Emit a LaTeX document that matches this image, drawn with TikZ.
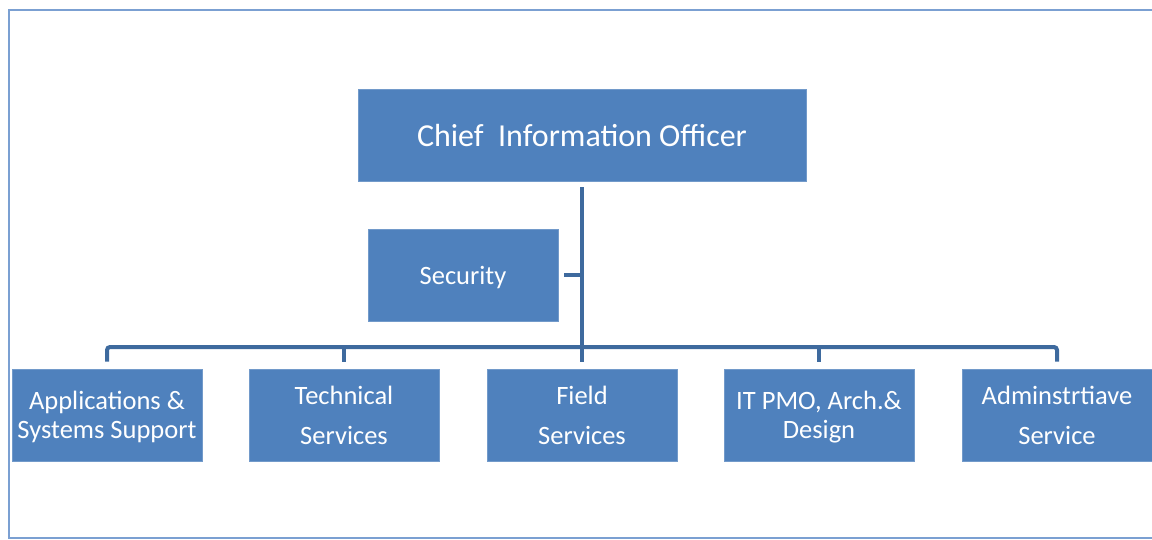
\documentclass[tikz,border=0pt]{standalone}
\usepackage{fontspec}
\setmainfont{Carlito}
\usepackage{tikz}
\usetikzlibrary{calc,positioning}

\definecolor{boxblue}{HTML}{4F81BD}
\definecolor{linkblue}{HTML}{3E6A9E}
\definecolor{framblue}{HTML}{7BA0D2}

\begin{document}
\begin{tikzpicture}[x=1pt,y=-1pt,
		unit/.style={fill=boxblue,draw=boxblue!80!white,line width=.6pt,text=white,align=center,
			minimum width=190pt,minimum height=92pt,inner sep=0pt,text depth=0pt,
			font=\fontsize{26.5}{29}\selectfont},
		head/.style={unit,minimum width=448pt,font=\fontsize{32}{36}\selectfont},
		link/.style={draw=linkblue,line width=4pt,rounded corners=3pt}]
		\useasboundingbox (0,0) rectangle (1152,540);
		\clip (0,0) rectangle (1152,540);
		\draw[framblue,line width=2.5pt] (9,10) rectangle (1190,538);

		% top of the chart
		\node[head] (cio) at (582,135) {Chief\ \ Information Officer};
		\node[unit] (security) at (463,275) {Security};

		% row of departments
		\node[unit] (apps) at (107,415) {Applications \&\\Systems Support};
		\node[unit] (tech) at (344,415) {Technical\\[11pt]Services};
		\node[unit] (field) at (582,415) {Field\\[11pt]Services};
		\node[unit] (pmo) at (819,415) {IT PMO, Arch.\&\\Design};
		\node[unit] (admin) at (1057,415) {Adminstrtiave\\[11pt]Service};

		\coordinate (bus) at (cio.south |- 0,347);
		\coordinate (trunkend) at (cio.south |- 0,362);

		\draw[link,shorten <=6pt] (cio.south) -- (trunkend);
		\draw[link,shorten <=6pt] (security.east) -- (security.east -| cio.south);
		\draw[link,shorten <=7pt] (apps.north) |- (bus);
		\draw[link,shorten <=7pt] (admin.north) |- (bus);
		\draw[link,shorten <=7pt] (tech.north) -- (tech.north |- bus);
		\draw[link,shorten <=7pt] (pmo.north) -- (pmo.north |- bus);
	\end{tikzpicture}
\end{document}
